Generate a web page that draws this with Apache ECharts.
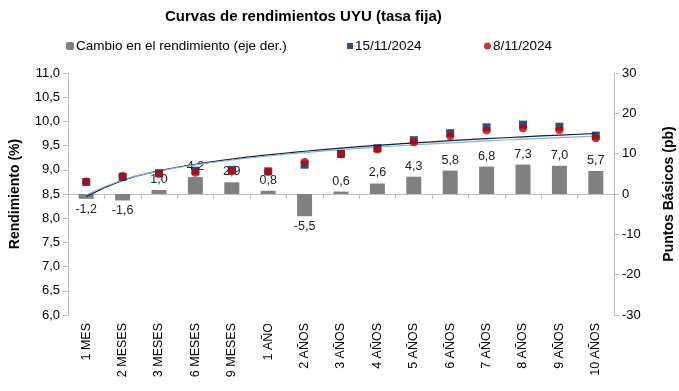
<!DOCTYPE html>
<html><head><meta charset="utf-8">
<script src="https://cdn.jsdelivr.net/npm/echarts@6/dist/echarts.min.js"></script>
<style>html,body{margin:0;padding:0;background:#fff}#c{width:679px;height:391px}</style>
</head><body><div id="c"></div>
<script>
const categories = ['1 MES','2 MESES','3 MESES','6 MESES','9 MESES','1 AÑO','2 AÑOS','3 AÑOS','4 AÑOS','5 AÑOS','6 AÑOS','7 AÑOS','8 AÑOS','9 AÑOS','10 AÑOS'];
const yield0811 = [8.76,8.87,8.92,8.94,8.97,8.96,9.16,9.32,9.42,9.57,9.70,9.81,9.86,9.82,9.65];
const changeBp = [-1.2,-1.6,1.0,4.2,2.9,0.8,-5.5,0.6,2.6,4.3,5.8,6.8,7.3,7.0,5.7];
const yield1511 = [8.748,8.854,8.930,8.982,8.999,8.968,9.105,9.326,9.446,9.613,9.758,9.878,9.933,9.890,9.707];
const leftTicks = {min:6, max:11, interval:0.5};
const rightTicks = {min:-30, max:30, interval:10};

// Excel-style logarithmic trendline (least squares on ln(x))
function logTrend(ys){
  const n = ys.length, lx = ys.map((_,i)=>Math.log(i+1));
  const mx = lx.reduce((a,b)=>a+b,0)/n, my = ys.reduce((a,b)=>a+b,0)/n;
  let sxy=0,sxx=0;
  for(let i=0;i<n;i++){sxy+=(lx[i]-mx)*(ys[i]-my);sxx+=(lx[i]-mx)**2;}
  const a=sxy/sxx, b=my-a*mx;
  return lx.map(v=>+(a*v+b).toFixed(4));
}
const fmt = v => v.toFixed(1).replace('.',',');
const font = 'Liberation Sans, Arial, sans-serif';

const chart = echarts.init(document.getElementById('c'));
chart.setOption({
  animation:false,
  textStyle:{fontFamily:font},
  title:{text:'Curvas de rendimientos UYU (tasa fija)',left:160,top:4,
    textStyle:{fontSize:15,fontWeight:'bold',color:'#000',fontFamily:font}},
  legend:[
    {data:['Cambio en el rendimiento (eje der.)'],left:61,top:34,itemWidth:8,itemHeight:8,itemGap:4,
      textStyle:{fontSize:13.5,color:'#000',padding:[0,0,0,-3]}},
    {data:['15/11/2024'],left:342,top:34,itemWidth:6,itemHeight:6,
      textStyle:{fontSize:13.5,color:'#000',padding:[0,0,0,-3]}},
    {data:['8/11/2024'],left:479,top:34,itemWidth:7,itemHeight:7,
      textStyle:{fontSize:13.5,color:'#000',padding:[0,0,0,-3]}}
  ],
  grid:{left:68,right:65,top:73,bottom:76,containLabel:false,outerBoundsMode:'none'},
  xAxis:{type:'category',data:categories,boundaryGap:true,
    axisLine:{lineStyle:{color:'#bfbfbf'}},
    axisTick:{show:true,alignWithLabel:false,length:5,lineStyle:{color:'#bfbfbf'}},
    axisLabel:{rotate:90,color:'#000',fontSize:12.5,interval:0,margin:8}},
  yAxis:[
    {type:'value',min:leftTicks.min,max:leftTicks.max,interval:leftTicks.interval,
      name:'Rendimiento (%)',nameLocation:'middle',nameGap:46,nameRotate:90,
      nameTextStyle:{fontSize:14,fontWeight:'bold',color:'#000'},
      axisLine:{show:true,lineStyle:{color:'#bfbfbf'}},
      axisTick:{show:true,length:5,lineStyle:{color:'#bfbfbf'}},
      splitLine:{show:false},
      axisLabel:{formatter:fmt,color:'#000',fontSize:13,margin:8}},
    {type:'value',min:rightTicks.min,max:rightTicks.max,interval:rightTicks.interval,position:'right',
      name:'Puntos Básicos (pb)',nameLocation:'middle',nameGap:48,nameRotate:90,
      nameTextStyle:{fontSize:14,fontWeight:'bold',color:'#000'},
      axisLine:{show:true,lineStyle:{color:'#bfbfbf'}},
      axisTick:{show:true,length:5,lineStyle:{color:'#bfbfbf'}},
      splitLine:{show:false},
      axisLabel:{color:'#000',fontSize:13,margin:8}}
  ],
  series:[
    {name:'Cambio en el rendimiento (eje der.)',type:'bar',yAxisIndex:1,
      data:changeBp.map(v=>({value:v,label:{position:v<0?'bottom':'top'}})),barWidth:15,
      itemStyle:{color:'#808080'},
      label:{show:true,color:'#222',fontSize:12.5,formatter:p=>fmt(p.value),distance:4}},
    {name:'15/11 trend',type:'line',yAxisIndex:0,data:logTrend(yield1511),smooth:true,symbol:'none',
      lineStyle:{color:'#1a1a2e',width:1.2},z:3},
    {name:'8/11 trend',type:'line',yAxisIndex:0,data:logTrend(yield0811),smooth:true,symbol:'none',
      lineStyle:{color:'#7fb2dc',width:1.2},z:3},
    {name:'15/11/2024',type:'scatter',yAxisIndex:0,data:yield1511,symbol:'rect',symbolSize:8,
      itemStyle:{color:'#002060'},z:4},
    {name:'8/11/2024',type:'scatter',yAxisIndex:0,data:yield0811,symbol:'circle',symbolSize:8,
      itemStyle:{color:'#c00000'},z:5}
  ]
});
</script></body></html>
